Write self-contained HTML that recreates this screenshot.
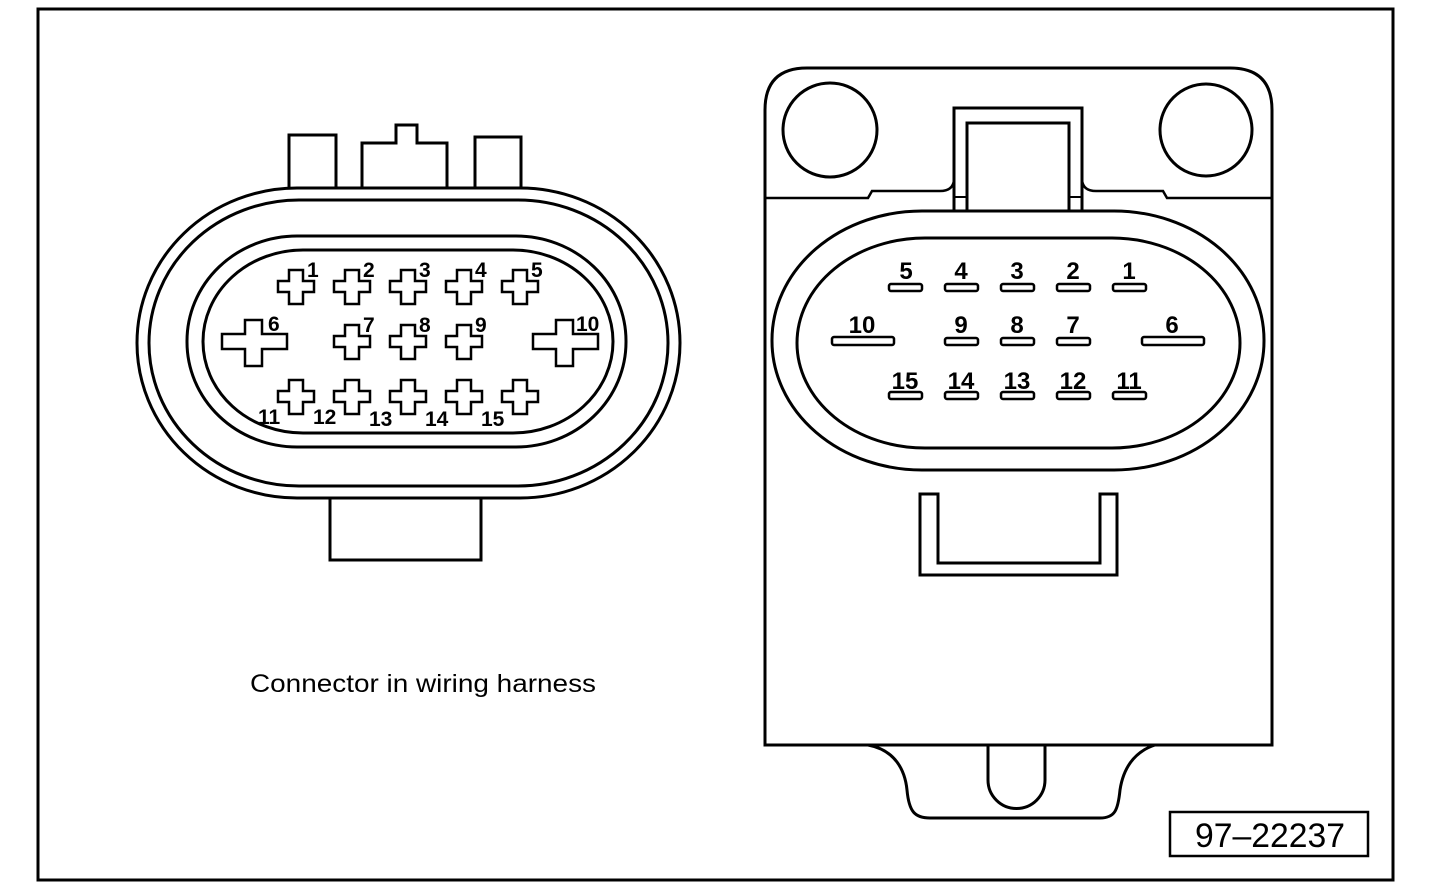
<!DOCTYPE html>
<html><head><meta charset="utf-8"><style>
html,body{margin:0;padding:0;background:#fff;}
svg{display:block;}
text{font-family:"Liberation Sans",sans-serif;}
</style></head><body>
<svg width="1440" height="896" viewBox="0 0 1440 896" xmlns="http://www.w3.org/2000/svg">
<defs>
<path id="c" d="M-7 -17 H7 V-6 H18 V5 H7 V17 H-7 V5 H-18 V-6 H-7 Z"/>
</defs>
<rect x="0" y="0" width="1440" height="896" fill="#fff"/>
<rect x="38" y="9" width="1355" height="871" fill="none" stroke="#000" stroke-width="3"/>

<g fill="none" stroke="#000" stroke-width="3">
<path d="M289 188 V135 H336 V188"/>
<path d="M362 188 V143 H396 V125 H417 V143 H447 V188"/>
<path d="M475 188 V137 H521 V188"/>
<path d="M330 498 V560 H481 V498"/>
<rect x="137" y="188" width="543" height="310" rx="160" ry="155" fill="#fff"/>
<rect x="149" y="200" width="519" height="286" rx="150" ry="143"/>
<rect x="187" y="236" width="439" height="211" rx="110" ry="105"/>
<rect x="203" y="250" width="410" height="183" rx="100" ry="92"/>
</g>

<g fill="#fff" stroke="#000" stroke-width="2.5">
<use href="#c" x="296" y="287"/><use href="#c" x="352" y="287"/><use href="#c" x="408" y="287"/><use href="#c" x="464" y="287"/><use href="#c" x="520" y="287"/>
<use href="#c" x="352" y="342"/><use href="#c" x="408" y="342"/><use href="#c" x="464" y="342"/>
<use href="#c" x="296" y="397"/><use href="#c" x="352" y="397"/><use href="#c" x="408" y="397"/><use href="#c" x="464" y="397"/><use href="#c" x="520" y="397"/>
<path d="M245 320 H262 V334 H287 V349 H262 V366 H245 V349 H222 V334 H245 Z"/>
<path d="M556 320 H573 V334 H598 V349 H573 V366 H556 V349 H533 V334 H556 Z"/>
</g>

<g font-weight="bold" font-size="21" fill="#000">
<text x="307" y="277">1</text><text x="363" y="277">2</text><text x="419" y="277">3</text><text x="475" y="277">4</text><text x="531" y="277">5</text>
<text x="268" y="331">6</text><text x="363" y="332">7</text><text x="419" y="332">8</text><text x="475" y="332">9</text><text x="576" y="331">10</text>
<text x="258" y="424">11</text><text x="313" y="424">12</text><text x="369" y="426">13</text><text x="425" y="426">14</text><text x="481" y="426">15</text>
</g>

<text x="250" y="692" font-size="25" fill="#000" textLength="346" lengthAdjust="spacingAndGlyphs">Connector in wiring harness</text>

<g fill="none" stroke="#000" stroke-width="3">
<path d="M868 745 C895 750 905 770 907 790 C909 812 915 818 930 818 H1100 C1115 818 1118 810 1120 790 C1123 770 1133 752 1155 745"/>
<path d="M988 745 V780 A28.5 28.5 0 0 0 1045 780 V745"/>
<path d="M765 745 V110 Q765 68 807 68 H1230 Q1272 68 1272 110 V745 Z"/>
<path d="M765 198 H868 L872 191 H940 Q953 191 954 180 M1082 180 Q1083 191 1096 191 H1163 L1167 198 H1272" stroke-width="2.5"/>
<circle cx="830" cy="130" r="47"/>
<circle cx="1206" cy="130" r="46"/>
<path d="M954 210 V108 H1082 V210"/>
<path d="M967 210 V123 H1069 V210"/>
<path d="M954 197 H967 M1069 197 H1082" stroke-width="2"/>
<rect x="772" y="211" width="492" height="259" rx="150" ry="129" fill="#fff"/>
<rect x="797" y="238" width="443" height="210" rx="128" ry="105"/>
<path d="M920 494 V575 H1117 V494 H1100 V563 H938 V494 Z"/>
</g>

<g fill="#fff" stroke="#000" stroke-width="2.5">
<rect x="889" y="284" width="33" height="7" rx="2"/><rect x="945" y="284" width="33" height="7" rx="2"/><rect x="1001" y="284" width="33" height="7" rx="2"/><rect x="1057" y="284" width="33" height="7" rx="2"/><rect x="1113" y="284" width="33" height="7" rx="2"/>
<rect x="832" y="337" width="62" height="8" rx="2"/><rect x="945" y="338" width="33" height="7" rx="2"/><rect x="1001" y="338" width="33" height="7" rx="2"/><rect x="1057" y="338" width="33" height="7" rx="2"/><rect x="1142" y="337" width="62" height="8" rx="2"/>
<rect x="889" y="392" width="33" height="7" rx="2"/><rect x="945" y="392" width="33" height="7" rx="2"/><rect x="1001" y="392" width="33" height="7" rx="2"/><rect x="1057" y="392" width="33" height="7" rx="2"/><rect x="1113" y="392" width="33" height="7" rx="2"/>
</g>
<g font-weight="bold" font-size="24" fill="#000" text-anchor="middle">
<text x="906" y="279">5</text><text x="961" y="279">4</text><text x="1017" y="279">3</text><text x="1073" y="279">2</text><text x="1129" y="279">1</text>
<text x="862" y="333">10</text><text x="961" y="333">9</text><text x="1017" y="333">8</text><text x="1073" y="333">7</text><text x="1172" y="333">6</text>
<text x="905" y="389">15</text><text x="961" y="389">14</text><text x="1017" y="389">13</text><text x="1073" y="389">12</text><text x="1129" y="389">11</text>
</g>

<rect x="1170" y="812" width="198" height="44" fill="none" stroke="#000" stroke-width="2.5"/>
<text x="1270" y="847" font-size="34" text-anchor="middle" fill="#000" textLength="150" lengthAdjust="spacingAndGlyphs">97–22237</text>
</svg>
</body></html>
